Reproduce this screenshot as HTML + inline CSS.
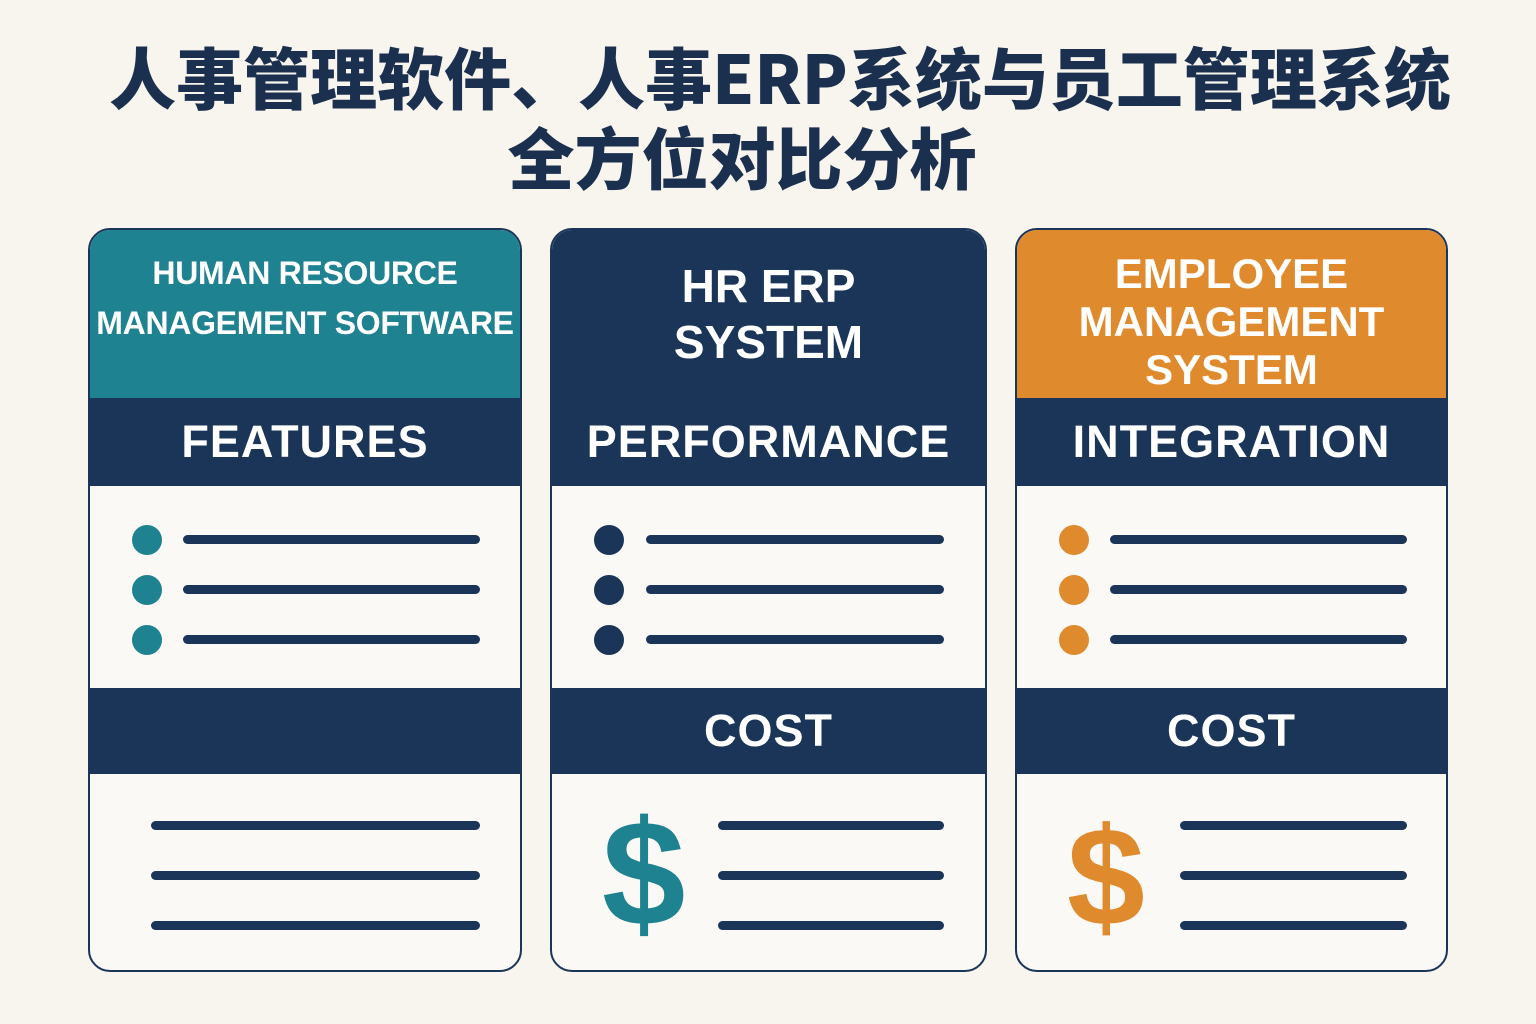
<!DOCTYPE html>
<html><head><meta charset="utf-8"><style>
body{margin:0;width:1536px;height:1024px;background:#f8f5ee;position:relative;overflow:hidden;font-family:"Liberation Sans","Noto Sans CJK SC",sans-serif;}
.t{position:absolute;left:0;width:1536px;text-align:center;color:#1b2f4e;font-weight:900;font-size:67px;line-height:80px;font-family:"Noto Sans CJK SC","Liberation Sans",sans-serif;letter-spacing:0px;white-space:nowrap}
.card{position:absolute;top:228px;height:744px;border:2px solid #1b3558;border-radius:22px;background:#fbf9f5;overflow:hidden;box-sizing:border-box}
.hd{position:absolute;left:0;right:0;top:0;height:168px;color:#fff;font-weight:bold;text-align:center;display:flex;align-items:center;justify-content:center}
.band{position:absolute;left:0;right:0;height:88px;background:#1b3558;color:#fff;font-weight:bold;font-size:45px;display:flex;align-items:center;justify-content:center;letter-spacing:1px}
.dot{position:absolute;width:30px;height:30px;border-radius:50%}
.ln{position:absolute;height:9px;border-radius:5px;background:#1b3558}
.dol{position:absolute;font-weight:bold;font-size:150px;line-height:150px}
</style></head><body>
<div class="t" style="top:36px;left:12px">人事管理软件、人事ERP系统与员工管理系统</div>
<div class="t" style="top:116px;left:-26px">全方位对比分析</div>

<div class="card" style="left:88px;width:434px">
 <div class="hd" style="background:#1f8290;font-size:32px;line-height:50px;align-items:flex-start;padding-top:18px;height:150px;letter-spacing:-0.3px;white-space:nowrap;left:-4px;right:-4px">HUMAN RESOURCE<br>MANAGEMENT SOFTWARE</div>
 <div class="band" style="top:168px">FEATURES</div>
 <div class="dot" style="left:42px;top:295px;background:#1f8290"></div>
 <div class="dot" style="left:42px;top:345px;background:#1f8290"></div>
 <div class="dot" style="left:42px;top:395px;background:#1f8290"></div>
 <div class="ln" style="left:93px;width:297px;top:305px"></div>
 <div class="ln" style="left:93px;width:297px;top:355px"></div>
 <div class="ln" style="left:93px;width:297px;top:405px"></div>
 <div class="band" style="top:458px;height:86px"></div>
 <div class="ln" style="left:61px;width:329px;top:591px"></div>
 <div class="ln" style="left:61px;width:329px;top:641px"></div>
 <div class="ln" style="left:61px;width:329px;top:691px"></div>
</div>

<div class="card" style="left:550px;width:437px">
 <div class="hd" style="background:#1b3558;font-size:46px;line-height:56px">HR ERP<br>SYSTEM</div>
 <div class="band" style="top:168px">PERFORMANCE</div>
 <div class="dot" style="left:42px;top:295px;background:#1b3558"></div>
 <div class="dot" style="left:42px;top:345px;background:#1b3558"></div>
 <div class="dot" style="left:42px;top:395px;background:#1b3558"></div>
 <div class="ln" style="left:94px;width:298px;top:305px"></div>
 <div class="ln" style="left:94px;width:298px;top:355px"></div>
 <div class="ln" style="left:94px;width:298px;top:405px"></div>
 <div class="band" style="top:458px;height:86px">COST</div>
 <div class="dol" style="left:50px;top:568px;color:#1f8290">$</div>
 <div class="ln" style="left:166px;width:226px;top:591px"></div>
 <div class="ln" style="left:166px;width:226px;top:641px"></div>
 <div class="ln" style="left:166px;width:226px;top:691px"></div>
</div>

<div class="card" style="left:1015px;width:433px">
 <div class="hd" style="background:#e08a2e;font-size:42px;line-height:48px;padding-top:8px">EMPLOYEE<br>MANAGEMENT<br>SYSTEM</div>
 <div class="band" style="top:168px">INTEGRATION</div>
 <div class="dot" style="left:42px;top:295px;background:#e08a2e"></div>
 <div class="dot" style="left:42px;top:345px;background:#e08a2e"></div>
 <div class="dot" style="left:42px;top:395px;background:#e08a2e"></div>
 <div class="ln" style="left:93px;width:297px;top:305px"></div>
 <div class="ln" style="left:93px;width:297px;top:355px"></div>
 <div class="ln" style="left:93px;width:297px;top:405px"></div>
 <div class="band" style="top:458px;height:86px">COST</div>
 <div class="dol" style="left:50px;top:572px;color:#e08a2e;font-size:140px">$</div>
 <div class="ln" style="left:163px;width:227px;top:591px"></div>
 <div class="ln" style="left:163px;width:227px;top:641px"></div>
 <div class="ln" style="left:163px;width:227px;top:691px"></div>
</div>
</body></html>
